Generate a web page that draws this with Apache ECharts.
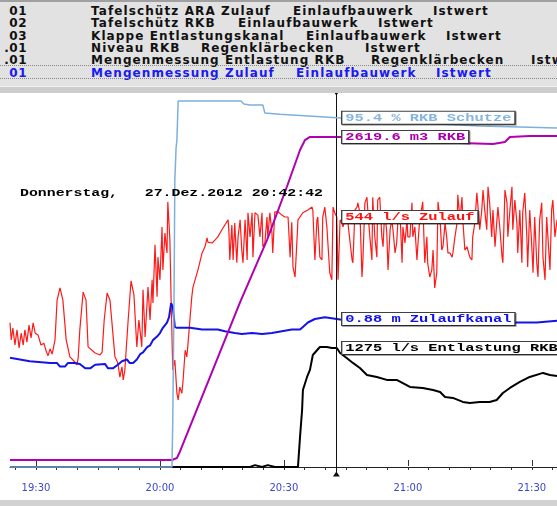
<!DOCTYPE html>
<html>
<head>
<meta charset="utf-8">
<script src="https://cdn.jsdelivr.net/npm/echarts@6/dist/echarts.min.js"></script>
<style>
  html, body { margin: 0; padding: 0; background: #fff; }
  #wrap { position: relative; width: 557px; height: 506px; overflow: hidden; }
  #chart { position: absolute; left: 0; top: 0; width: 557px; height: 506px; }
  #list { position: absolute; left: 0; top: 0; width: 557px; height: 86px; background: #e2e2e2;
          border-top: 2px solid #a0a0a0; box-sizing: border-box;
          font: bold 12px "DejaVu Sans"; letter-spacing: 1.1px; }
  #sep { position: absolute; left: 0; top: 86px; width: 557px; height: 7px; background: #cdcdcd;
         border-top: 1px solid #f2f2f2; box-sizing: border-box; }
  #foot { position: absolute; left: 0; top: 500px; width: 557px; height: 6px; background: #d2d2d2; }
  .row { position: absolute; left: 0; width: 557px; height: 12px; line-height: 12px; white-space: nowrap; color: #111; }
  .row span { position: absolute; top: 0; }
  .row span.num { left: 0; width: 27px; text-align: right; letter-spacing: 0.5px; }
  .row.sel { color: #1a1af0; }
  .focus { position: absolute; left: 0; width: 557px; height: 0; border-top: 1px dotted #888; }
</style>
</head>
<body>
<div id="wrap">
  <div id="chart"></div>
  <div id="list"></div>
  <div id="sep"></div>
  <div id="foot"></div>
</div>
<script>
// list rows above the trend
const listNums = ['01', '02', '03', '.01', '.01', '01']
const listTexts = [
  [[91, 'Tafelschütz ARA Zulauf'], [293, 'Einlaufbauwerk'], [433, 'Istwert']],
  [[91, 'Tafelschütz RKB'], [238, 'Einlaufbauwerk'], [378, 'Istwert']],
  [[91, 'Klappe Entlastungskanal'], [306, 'Einlaufbauwerk'], [446, 'Istwert']],
  [[91, 'Niveau RKB'], [201, 'Regenklärbecken'], [365, 'Istwert']],
  [[91, 'Mengenmessung Entlastung RKB'], [371, 'Regenklärbecken'], [531, 'Istwert']],
  [[91, 'Mengenmessung Zulauf'], [296, 'Einlaufbauwerk'], [436, 'Istwert']]
]

// time axis in minutes after 19:30
const tickMinutes = [0, 30, 60, 90, 120]
const tickLabels = ['19:30', '20:00', '20:30', '21:00', '21:30']
const minorMinutes = [-5, 0, 5, 10, 15, 20, 25, 30, 35, 40, 45, 50, 55, 60, 65, 70, 75, 80, 85, 90, 95, 100, 105, 110, 115, 120, 125]
const tMin = -6.3
const tMax = 126.1
const cursorT = 72.7   // 20:42:42

// Tafelschütz RKB (%)
const schutzeT = [-6.3, 32.9, 33.1, 33.4, 33.6, 33.9, 34.1, 34.4, 49.6, 50.3, 51.8, 54.9, 55.4, 59.0, 72.8, 88.1, 97.8, 107.4, 117.1, 126.1]
const schutzeV = [0, 0, 12.8, 45.6, 78.4, 87.2, 89.3, 100, 100, 99.2, 98.9, 98.9, 96.7, 96.4, 95.4, 94.5, 93.7, 93.2, 92.9, 92.6]

// Niveau RKB (m3)
const rkbT = [-6.3, 32.9, 34.1, 34.8, 42.8, 49.4, 55.9, 60.7, 63.9, 65.1, 66.3, 72.8, 94.6, 97.8, 102.6, 110.6, 113.5, 114.7, 119.5, 126.1]
const rkbV = [0, 0, 16, 65, 730, 1281, 1784, 2214, 2514, 2595, 2620, 2620, 2611, 2579, 2571, 2563, 2579, 2620, 2628, 2628]

// Mengenmessung Zulauf (l/s)
const zulaufT = [
  -6.3, -6.0, -5.6, -5.1, -4.6, -4.1, -3.6, -3.1, -2.7, -2.2,
  -1.7, -1.2, -0.7, -0.2, 0.5, 1.2, 1.9, 2.4, 2.9, 3.4,
  3.9, 4.6, 5.1, 5.8, 6.5, 7.3, 8.2, 9.4, 9.9, 10.2,
  10.6, 11.4, 12.1, 12.6, 14.3, 15.5, 16.0, 16.5, 17.2, 17.9,
  19.1, 19.8, 20.3, 20.8, 21.1, 21.5, 22.3, 23.0, 23.7, 24.4,
  24.9, 25.6, 25.9, 26.4, 27.1, 27.6, 28.1, 28.3, 28.8, 29.3,
  29.5, 30.0, 30.5, 30.7, 31.2, 31.7, 31.9, 32.4, 32.7, 33.1,
  33.6, 34.1, 34.4, 34.8, 35.3, 35.6, 36.1, 36.5, 36.8, 37.3,
  37.7, 38.0, 38.5, 39.2, 40.2, 40.9, 41.4, 41.6, 42.6, 43.3,
  44.0, 45.0, 45.7, 46.5, 46.7, 46.9, 47.4, 47.7, 48.1, 48.6,
  48.9, 49.4, 49.8, 50.1, 50.6, 51.1, 51.3, 51.8, 52.3, 52.5,
  53.0, 53.7, 54.2, 54.7, 54.9, 55.4, 55.9, 56.1, 56.6, 57.1,
  57.3, 57.8, 58.6, 59.5, 60.2, 61.0, 61.5, 61.9, 62.2, 62.7,
  63.2, 63.4, 64.6, 65.8, 66.8, 67.0, 67.5, 68.0, 68.2, 68.7,
  69.2, 69.4, 69.9, 70.4, 70.7, 71.1, 71.6, 71.9, 72.3, 72.8,
  73.1, 73.6, 74.0, 74.3, 74.8, 75.5, 76.5, 76.7, 77.2, 77.7,
  77.9, 78.4, 78.9, 79.1, 79.6, 80.1, 80.3, 80.8, 81.3, 81.5,
  82.0, 82.5, 82.7, 83.2, 83.7, 84.0, 84.4, 84.9, 85.2, 85.7,
  86.1, 86.4, 86.9, 87.3, 87.6, 88.1, 88.6, 88.8, 89.3, 89.8,
  90.0, 90.5, 91.0, 91.2, 91.7, 92.2, 92.4, 92.9, 93.4, 93.6,
  94.1, 94.6, 94.8, 95.3, 95.8, 96.1, 96.5, 97.0, 97.3, 97.8,
  98.2, 98.5, 99.0, 99.4, 99.7, 100.2, 100.7, 100.9, 101.4, 101.9,
  102.1, 102.6, 103.1, 103.3, 103.8, 104.3, 104.5, 105.0, 105.5, 105.7,
  106.2, 106.7, 106.9, 107.4, 107.9, 108.2, 108.6, 109.1, 109.4, 109.8,
  110.3, 110.6, 111.1, 111.5, 111.8, 112.3, 112.8, 113.0, 113.5, 114.0,
  114.2, 114.7, 115.2, 115.4, 115.9, 116.4, 116.6, 117.1, 117.6, 117.8,
  118.3, 118.8, 119.0, 119.5, 120.0, 120.3, 120.7, 121.2, 121.5, 121.9,
  122.4, 122.7, 123.2, 123.6, 123.9, 124.4, 124.8, 125.1, 125.6, 126.1
]
const zulaufV = [
  320, 284, 309, 273, 305, 267, 298, 273, 305, 279,
  315, 288, 320, 298, 294, 273, 277, 262, 250, 265,
  254, 284, 368, 394, 368, 284, 248, 237, 231, 246,
  305, 385, 368, 269, 256, 252, 258, 326, 383, 368,
  248, 235, 205, 227, 199, 220, 326, 409, 379, 269,
  326, 269, 390, 290, 396, 326, 411, 362, 485, 375,
  459, 411, 523, 432, 510, 468, 576, 495, 368, 220,
  241, 171, 157, 184, 171, 199, 262, 248, 277, 332,
  375, 396, 411, 432, 468, 481, 500, 491, 489, 495,
  502, 517, 527, 538, 510, 453, 527, 453, 531, 447,
  502, 538, 474, 447, 538, 453, 553, 502, 553, 459,
  553, 548, 502, 553, 481, 489, 544, 502, 553, 510,
  468, 555, 555, 548, 544, 544, 459, 533, 438, 417,
  502, 538, 553, 559, 565, 559, 453, 538, 544, 459,
  453, 544, 565, 523, 481, 426, 411, 565, 553, 544,
  411, 538, 531, 523, 538, 531, 453, 447, 559, 565,
  574, 553, 417, 447, 574, 586, 559, 502, 453, 586,
  502, 459, 580, 586, 502, 481, 559, 510, 432, 517,
  538, 517, 468, 489, 538, 553, 447, 523, 489, 538,
  502, 502, 574, 502, 523, 453, 481, 544, 565, 576,
  447, 502, 447, 417, 432, 474, 394, 426, 576, 538,
  474, 481, 531, 502, 468, 468, 459, 468, 502, 531,
  591, 538, 586, 538, 474, 481, 481, 459, 453, 502,
  531, 595, 574, 517, 559, 601, 559, 517, 608, 574,
  502, 559, 481, 531, 565, 517, 459, 447, 601, 574,
  502, 559, 608, 517, 580, 531, 468, 559, 447, 553,
  595, 502, 438, 559, 481, 426, 544, 447, 417, 538,
  574, 459, 411, 544, 502, 432, 559, 580, 502, 538
]

// Niveau Zulaufkanal (m)
const kanalT = [-6.3, -3.9, -1.5, 3.4, 5.1, 5.8, 7.0, 7.7, 9.4, 10.6, 11.9, 13.1, 14.3, 16.7, 17.4, 18.6, 19.8, 20.8, 22.0, 22.7,
  23.5, 24.4, 25.2, 25.9, 26.9, 27.6, 28.3, 29.3, 30.0, 30.7, 31.7, 32.2, 32.7, 32.9, 33.1, 33.6, 34.1, 37.3, 40.2, 44.0,
  45.7, 48.1, 49.8, 52.3, 54.7, 57.1, 59.5, 61.9, 63.9, 64.6, 65.8, 67.5, 69.9, 72.8, 78.4, 88.1, 100.2, 116.4, 121.2, 126.1]
const kanalV = [0.66, 0.65, 0.64, 0.63, 0.63, 0.61, 0.61, 0.63, 0.63, 0.625, 0.60, 0.60, 0.62, 0.625, 0.60, 0.60, 0.62, 0.64, 0.65, 0.63,
  0.63, 0.65, 0.68, 0.69, 0.72, 0.73, 0.76, 0.78, 0.80, 0.83, 0.86, 0.89, 0.97, 0.98, 0.95, 0.835, 0.83, 0.83, 0.82, 0.82,
  0.81, 0.80, 0.795, 0.80, 0.795, 0.80, 0.81, 0.82, 0.82, 0.835, 0.86, 0.88, 0.89, 0.88, 0.86, 0.85, 0.85, 0.86, 0.86, 0.87]

// Mengenmessung Entlastung RKB (l/s)
const entlastT = [-6.3, 51.8, 53.0, 54.7, 56.1, 57.8, 63.4, 63.9, 64.4, 64.6, 65.6, 66.3, 67.0, 68.7, 70.4, 71.6, 72.8, 73.6, 75.2, 76.7,
  78.4, 80.1, 82.5, 84.9, 87.3, 90.5, 93.6, 96.1, 97.8, 99.0, 100.9, 103.3, 105.0, 107.4, 109.8, 111.5, 113.0, 114.7, 117.1, 119.5,
  122.7, 124.4, 126.1]
const entlastV = [0, 0, 20, 0, 20, 0, 0, 322, 611, 825, 965, 1040, 1200, 1286, 1286, 1275, 1275, 1222, 1168, 1115,
  1061, 986, 965, 933, 933, 858, 847, 825, 804, 750, 740, 697, 686, 697, 697, 718, 793, 847, 911, 965,
  1008, 986, 976]

// values shown in the cursor tags
const tags = [
  { axis: 0, v: 95.4, text: '95.4 % RKB Schutze', color: '#86b6e0' },
  { axis: 1, v: 2619.6, text: '2619.6 m3 RKB', color: '#a800a8' },
  { axis: 2, v: 544, text: '544 l/s Zulauf', color: '#ff1010' },
  { axis: 3, v: 0.88, text: '0.88 m Zulaufkanal', color: '#1010f0' },
  { axis: 4, v: 1275, text: '1275 l/s Entlastung RKB', color: '#000' }
]

// build list
const list = document.querySelector('#list')
listTexts.forEach((row, i) => {
  const div = document.createElement('div')
  div.className = 'row' + (i === 5 ? ' sel' : '')
  div.style.top = (3 + i * 12.3) + 'px'
  const num = document.createElement('span')
  num.className = 'num'
  num.textContent = listNums[i]
  div.appendChild(num)
  row.forEach(([x, t]) => {
    const s = document.createElement('span')
    s.style.left = x + 'px'
    s.textContent = t
    div.appendChild(s)
  })
  list.appendChild(div)
})
;[63, 76].forEach(y => {
  const f = document.createElement('div')
  f.className = 'focus'
  f.style.top = y + 'px'
  list.appendChild(f)
})

const zip = (t, v) => t.map((x, i) => [x, v[i]])

const chart = echarts.init(document.querySelector('#chart'))

const yAxes = [
  { min: -1.91, max: 102.19 },   // %
  { min: -113.5, max: 2976.5 },  // m3
  { min: 0, max: 806.5 },        // l/s Zulauf
  { min: 0, max: 2.163 },        // m
  { min: -75, max: 4007 }        // l/s Entlastung
].map(a => ({ type: 'value', show: false, min: a.min, max: a.max, splitLine: { show: false } }))

const lineSeries = (name, axis, data, color, width, z) => ({
  name: name,
  type: 'line',
  xAxisIndex: 0,
  yAxisIndex: axis,
  data: data,
  symbol: 'none',
  showSymbol: false,
  lineStyle: { color: color, width: width },
  z: z
})

const option = {
  animation: false,
  backgroundColor: 'transparent',
  grid: { left: 10, right: 0, top: 93, bottom: 32 },
  xAxis: [
    {
      type: 'value', min: tMin, max: tMax, position: 'bottom',
      splitLine: { show: false },
      axisLine: { lineStyle: { color: '#222', width: 1 } },
      axisTick: { customValues: minorMinutes, length: 3, lineStyle: { color: '#333' } },
      axisLabel: {
        customValues: tickMinutes,
        formatter: v => tickLabels[tickMinutes.indexOf(v)],
        color: '#3c48c8', fontFamily: 'DejaVu Sans', fontSize: 10, margin: 9
      }
    },
    {
      type: 'value', min: tMin, max: tMax, position: 'bottom',
      splitLine: { show: false },
      axisLine: { show: false },
      axisTick: { customValues: tickMinutes, length: 6, lineStyle: { color: '#333' } },
      axisLabel: { show: false }
    }
  ],
  yAxis: yAxes,
  series: [
    lineSeries('Zulauf', 2, zip(zulaufT, zulaufV), '#ff1a1a', 1.2, 2),
    lineSeries('Zulaufkanal', 3, zip(kanalT, kanalV), '#1414e6', 2, 3),
    lineSeries('Entlastung RKB', 4, zip(entlastT, entlastV), '#000', 2, 3),
    lineSeries('RKB', 1, zip(rkbT, rkbV), '#b000b0', 2, 4),
    Object.assign(lineSeries('RKB Schutze', 0, zip(schutzeT, schutzeV), '#7eb0dc', 1.5, 5), {
      markLine: {
        silent: true,
        symbol: ['path://M0,0L10,0L5,8Z', 'path://M0,0L10,0L5,8Z'],
        symbolSize: [7, 5],
        label: { show: false },
        lineStyle: { color: '#111', width: 1, type: 'solid' },
        data: [{ xAxis: cursorT }]
      }
    })
  ]
}

chart.setOption(option)

// cursor date and value tags, placed through the axes
const graphics = [{
  type: 'text', x: 20, y: 193, scaleX: 1.35, z: 100,
  style: {
    text: 'Donnerstag,   27.Dez.2012 20:42:42',
    font: 'bold 11px "Liberation Mono"', fill: '#000',
    verticalAlign: 'middle', textVerticalAlign: 'middle'
  }
}]
tags.forEach(t => {
  const p = chart.convertToPixel({ xAxisIndex: 0, yAxisIndex: t.axis }, [cursorT, t.v])
  graphics.push({
    type: 'text', x: p[0] + 6, y: p[1], scaleX: 1.4, z: 100,
    style: {
      text: t.text, font: 'bold 11px "Liberation Mono"', fill: t.color,
      verticalAlign: 'middle', textVerticalAlign: 'middle',
      backgroundColor: '#fff', borderColor: '#404040', borderWidth: 1,
      padding: [1, 2, 0, 2],
      shadowColor: 'rgba(0,0,0,0.35)', shadowOffsetX: 1, shadowOffsetY: 1
    }
  })
})
chart.setOption({ graphic: graphics })
</script>
</body>
</html>
